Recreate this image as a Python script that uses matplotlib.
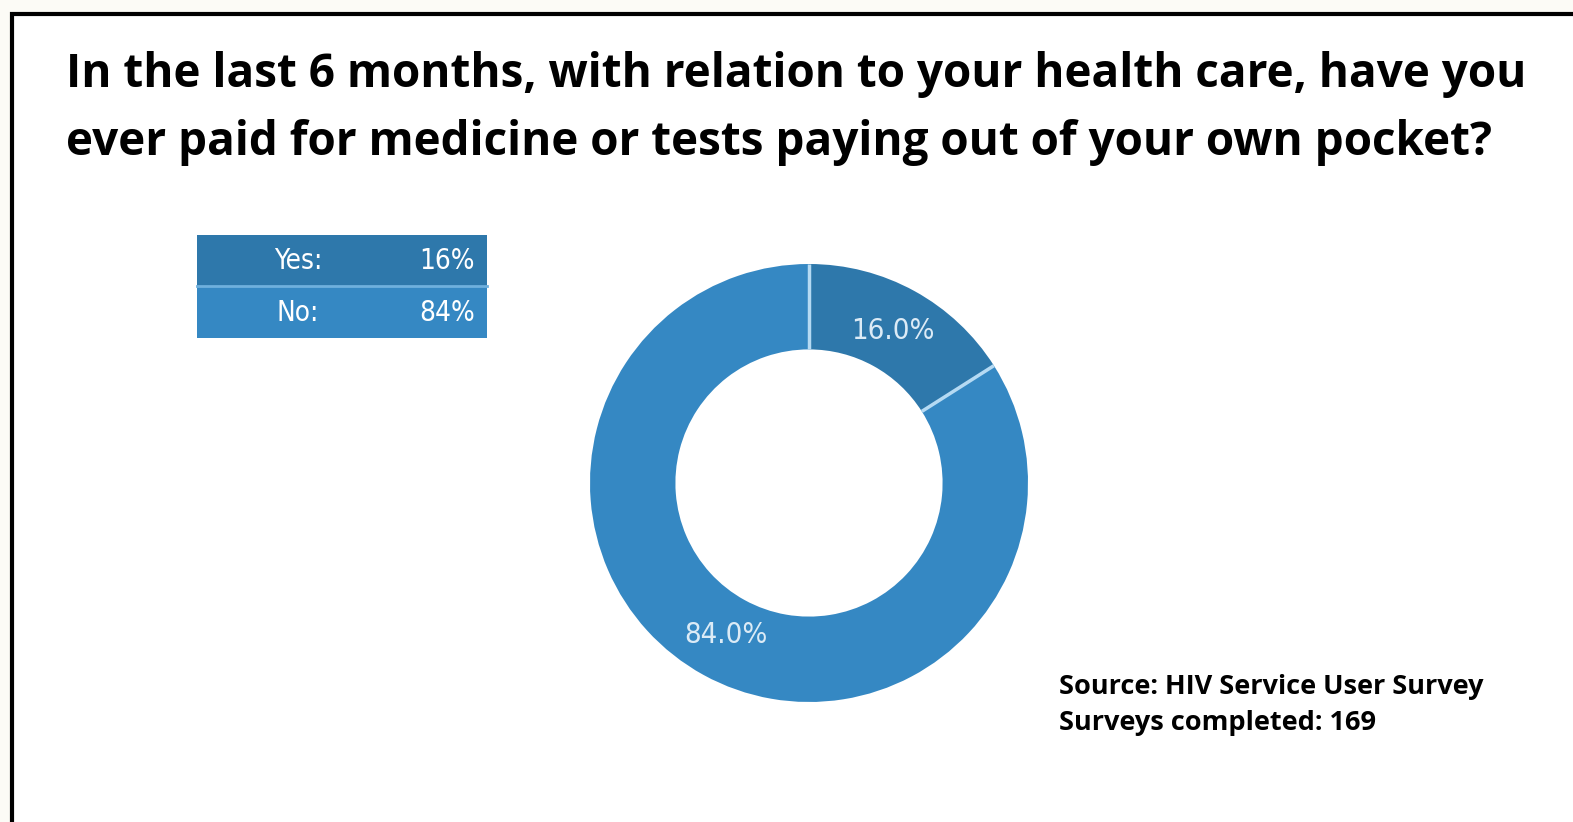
import matplotlib
matplotlib.use("Agg")
import matplotlib.pyplot as plt
import numpy as np
from matplotlib.patches import Rectangle

# survey answers
labels = ["Yes", "No"]
shares = [16.0, 84.0]
share_labels = ["16%", "84%"]
title = ("In the last 6 months, with relation to your health care, have you\n"
         "ever paid for medicine or tests paying out of your own pocket?")
source_lines = ["Source: HIV Service User Survey", "Surveys completed: 169"]

colors = ["#2e78ab", "#3588c3"]
W, H = 1573, 822
narrow = dict(family="DejaVu Sans", stretch="condensed")

fig = plt.figure(figsize=(W / 100, H / 100), dpi=100)
fig.patch.set_facecolor("#fcfbf6")

# white panel with black frame (runs off right / bottom edges)
bg = fig.add_axes([0, 0, 1, 1])
bg.set_xlim(0, W)
bg.set_ylim(H, 0)
bg.axis("off")
bg.add_patch(Rectangle((12, 14), W + 20, H + 20, facecolor="white",
                       edgecolor="black", linewidth=3))

for k, line in enumerate(title.split("\n")):
    bg.text(66, 75 + k * 67, line, fontsize=33, fontweight="bold",
            family="Open Sans", va="center", ha="left")

# small table in the upper left
row_h = 51
for i, (lab, s) in enumerate(zip(labels, share_labels)):
    y0 = 235 + i * (row_h + 1)
    bg.add_patch(Rectangle((197, y0), 290, row_h, facecolor=colors[i],
                           edgecolor="none"))
    bg.text(298, y0 + row_h / 2, lab + ":", color="white", fontsize=20,
            ha="center", va="center", **narrow)
    bg.text(475, y0 + row_h / 2, s, color="white", fontsize=20,
            ha="right", va="center", **narrow)
bg.plot([197, 487], [286.5, 286.5], color="#6fb0dd", linewidth=2)

for j, line in enumerate(source_lines):
    bg.text(1059, 687 + j * 36, line, fontsize=19.5, fontweight="bold",
            family="Open Sans", ha="left", va="center")

# donut
cx, cy, r = 809, 483, 219
ax = fig.add_axes([(cx - r) / W, 1 - (cy + r) / H, 2 * r / W, 2 * r / H])
wedges, _, autotexts = ax.pie(
    shares, colors=colors, startangle=90, counterclock=False,
    radius=1, autopct="%.1f%%", pctdistance=0.79,
    wedgeprops=dict(width=0.39, edgecolor="none"),
    textprops=dict(color="#dcebf6", fontsize=21, **narrow))
# light separators between slices
bounds = 90 - 360 * np.cumsum([0] + shares[:-1]) / 100.0
for a in np.radians(bounds):
    ax.plot([0.61 * np.cos(a), np.cos(a)], [0.61 * np.sin(a), np.sin(a)],
            color="#b5daf3", linewidth=2.5, solid_capstyle="butt")
ax.set_xlim(-1, 1)
ax.set_ylim(-1, 1)
ax.set_aspect("equal")

fig.savefig("out.png", dpi=100, facecolor=fig.get_facecolor())
